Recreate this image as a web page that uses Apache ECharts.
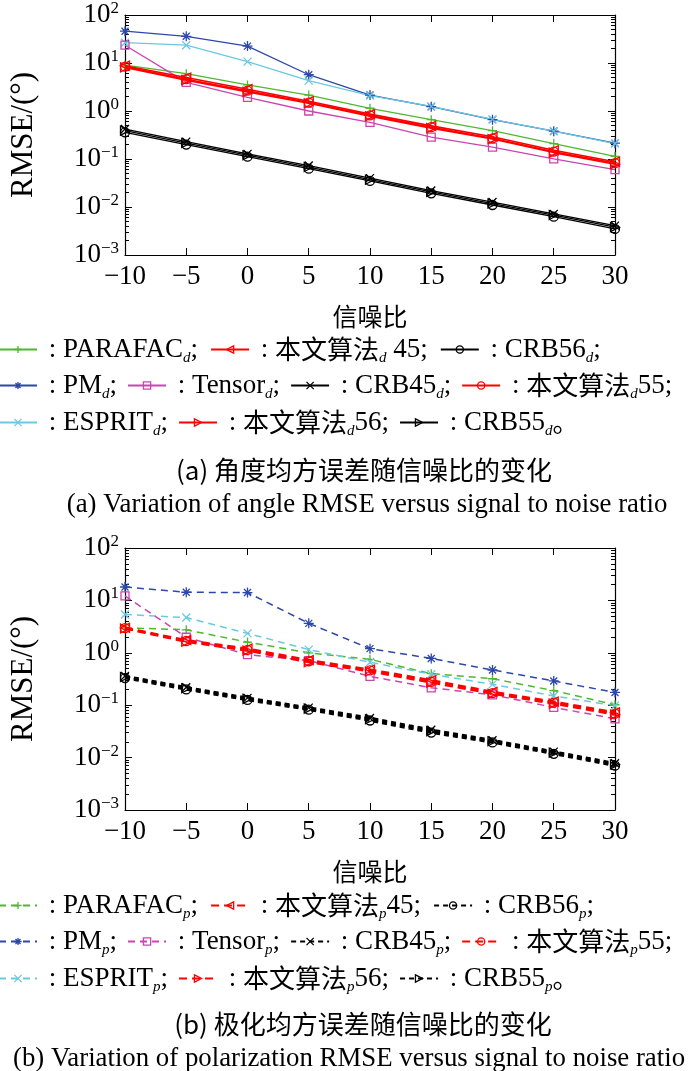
<!DOCTYPE html>
<html>
<head>
<meta charset="utf-8">
<script src="https://cdn.jsdelivr.net/npm/echarts@6/dist/echarts.min.js"></script>
<style>
    html, body { margin: 0; padding: 0; background: #fff; }
    #rmse { width: 700px; height: 1071px; }
</style>
</head>
<body>
<div id="rmse"></div>
<script>

// Chart data
// ------------------------------

var snr = [-10, -5, 0, 5, 10, 15, 20, 25, 30];

// (a) angle RMSE
var parafacD = [9.0, 6.0, 3.5, 2.15, 1.14, 0.66, 0.39, 0.21, 0.113];
var pmD      = [46, 36, 22.5, 5.7, 2.15, 1.23, 0.66, 0.38, 0.214];
var espritD  = [26.5, 23.5, 10.7, 4.3, 2.1, 1.25, 0.67, 0.38, 0.21];
var tensorD  = [23.5, 3.95, 1.92, 1.0, 0.58, 0.285, 0.177, 0.101, 0.06];
var alg45D   = [8.8, 5.0, 2.85, 1.6, 0.86, 0.49, 0.29, 0.152, 0.088];
var alg55D   = [8.4, 4.6, 2.65, 1.5, 0.81, 0.46, 0.27, 0.142, 0.082];
var alg56D   = [8.1, 4.4, 2.5, 1.45, 0.78, 0.44, 0.26, 0.136, 0.078];
var crb45D   = [0.42, 0.23, 0.128, 0.073, 0.04, 0.022, 0.0127, 0.0072, 0.0041];
var crb55D   = [0.39, 0.215, 0.12, 0.068, 0.037, 0.0206, 0.0118, 0.0068, 0.0038];
var crb56D   = [0.36, 0.2, 0.112, 0.063, 0.035, 0.0193, 0.011, 0.0063, 0.0035];

// (b) polarization RMSE
var parafacP = [3.0, 2.75, 1.6, 1.0, 0.75, 0.40, 0.32, 0.19, 0.102];
var pmP      = [18, 14.3, 14.1, 3.65, 1.2, 0.78, 0.47, 0.29, 0.175];
var espritP  = [5.4, 4.7, 2.35, 1.15, 0.66, 0.39, 0.25, 0.15, 0.098];
var tensorP  = [12.2, 1.98, 0.92, 0.71, 0.355, 0.215, 0.158, 0.091, 0.055];
var alg45P   = [3.0, 1.75, 1.2, 0.73, 0.48, 0.3, 0.18, 0.117, 0.073];
var alg55P   = [2.95, 1.68, 1.14, 0.69, 0.46, 0.28, 0.17, 0.112, 0.069];
var alg56P   = [2.9, 1.62, 1.1, 0.66, 0.44, 0.27, 0.165, 0.107, 0.066];
var crb45P   = [0.36, 0.22, 0.138, 0.09, 0.057, 0.034, 0.0215, 0.013, 0.0078];
var crb55P   = [0.345, 0.21, 0.132, 0.086, 0.054, 0.032, 0.0205, 0.0124, 0.0074];
var crb56P   = [0.33, 0.2, 0.126, 0.082, 0.051, 0.030, 0.0195, 0.0118, 0.007];

// Tick labels and texts
var xTicks = [-10, -5, 0, 5, 10, 15, 20, 25, 30];
var yDecades = [-3, -2, -1, 0, 1, 2];
var legendText = {
    'PARAFAC_d': '{t| : PARAFAC}{s|d}{t|;}',
    'ALG45_d':   '{t| : }{c|本文算法}{s|d}{t| 45;}',
    'CRB56_d':   '{t| : CRB56}{s|d}{t|;}',
    'PM_d':      '{t| : PM}{s|d}{t|;}',
    'Tensor_d':  '{t| : Tensor}{s|d}{t|;}',
    'CRB45_d':   '{t| : CRB45}{s|d}{t|;}',
    'ALG55_d':   '{t| : }{c|本文算法}{s|d}{t|55;}',
    'ESPRIT_d':  '{t| : ESPRIT}{s|d}{t|;}',
    'ALG56_d':   '{t| : }{c|本文算法}{s|d}{t|56;}',
    'CRB55_d':   '{t| : CRB55}{s|d}{c|。}',
    'PARAFAC_p': '{t| : PARAFAC}{s|p}{t|;}',
    'ALG45_p':   '{t| : }{c|本文算法}{s|p}{t|45;}',
    'CRB56_p':   '{t| : CRB56}{s|p}{t|;}',
    'PM_p':      '{t| : PM}{s|p}{t|;}',
    'Tensor_p':  '{t| : Tensor}{s|p}{t|;}',
    'CRB45_p':   '{t| : CRB45}{s|p}{t|;}',
    'ALG55_p':   '{t| : }{c|本文算法}{s|p}{t|55;}',
    'ESPRIT_p':  '{t| : ESPRIT}{s|p}{t|;}',
    'ALG56_p':   '{t| : }{c|本文算法}{s|p}{t|56;}',
    'CRB55_p':   '{t| : CRB55}{s|p}{c|。}'
};
var captions = [
    '(a) 角度均方误差随信噪比的变化',
    '(a) Variation of angle RMSE versus signal to noise ratio',
    '(b) 极化均方误差随信噪比的变化',
    '(b) Variation of polarization RMSE versus signal to noise ratio'
];


var RmseChart = function() {

    var SERIF = "'Liberation Serif', 'Noto Sans CJK SC', serif";
    var CJK = "'Noto Sans CJK SC', sans-serif";

    // Colors
    var GREEN = '#4fb82e', BLUE = '#2c48a8', CYAN = '#6cc8e0',
        MAGENTA = '#cc44b0', RED = '#ff0000', BLACK = '#000000';

    // Marker shapes
    var PLUS = 'path://M5,0L5,10M0,5L10,5';
    var CROSS = 'path://M0,0L10,10M10,0L0,10';
    var STAR = 'path://M5,0L5,10M0,5L10,5M1.5,1.5L8.5,8.5M8.5,1.5L1.5,8.5';

    // Grid boxes
    var grids = [
        {left: 113, right: 85, top: 14, height: 241},
        {left: 113, right: 85, top: 548, height: 262}
    ];

    // Minor ticks of the log axes (in decades)
    var minor = [];
    for (var d = -3; d < 2; d++) {
        for (var k = 2; k <= 9; k++) {
            minor.push(d + Math.log10(k));
        }
    }

    var minusSign = function(v) {
        return String(v).replace('-', '\u2212');
    };

    // Build axes for both grids
    var xAxes = [], yAxes = [];
    grids.forEach(function(g, i) {
        var base = {
            type: 'value', gridIndex: i, min: -10, max: 30, interval: 5,
            axisLine: {onZero: false, lineStyle: {color: BLACK, width: 1.2}},
            axisTick: {inside: true, length: 7, lineStyle: {color: BLACK}},
            splitLine: {show: false}
        };
        xAxes.push(Object.assign({}, base, {
            position: 'bottom',
            name: '信噪比', nameLocation: 'middle', nameGap: 49,
            nameTextStyle: {fontFamily: CJK, fontSize: 25, color: BLACK},
            axisLabel: {
                margin: 8, color: BLACK, fontFamily: SERIF, fontSize: 27,
                formatter: function(v) { return xTicks.indexOf(v) > -1 ? minusSign(v) : ''; }
            }
        }));
        xAxes.push(Object.assign({}, base, {position: 'top', axisLabel: {show: false}}));

        var logBase = {
            type: 'log', logBase: 10, gridIndex: i, min: 0.001, max: 100,
            axisLine: {onZero: false, lineStyle: {color: BLACK, width: 1.2}},
            axisTick: {inside: true, length: 7, lineStyle: {color: BLACK}},
            splitLine: {show: false}
        };
        yAxes.push(Object.assign({}, logBase, {
            position: 'left',
            name: 'RMSE/(°)', nameLocation: 'middle', nameGap: 86,
            nameTextStyle: {fontFamily: SERIF, fontSize: 31, color: BLACK},
            axisLabel: {
                margin: 6, color: BLACK,
                formatter: function(v) {
                    var e = Math.round(Math.log10(v));
                    if (yDecades.indexOf(e) < 0) return '';
                    return '{b|10}{e|' + minusSign(e) + '}';
                },
                rich: {
                    b: {fontFamily: SERIF, fontSize: 27, lineHeight: 30, color: BLACK},
                    e: {fontFamily: SERIF, fontSize: 17, lineHeight: 12, verticalAlign: 'top', color: BLACK}
                }
            }
        }));
        yAxes.push(Object.assign({}, logBase, {position: 'right', axisLabel: {show: false}}));

        ['left', 'right'].forEach(function(pos) {
            yAxes.push({
                type: 'value', gridIndex: i, min: -3, max: 2, position: pos,
                axisLine: {show: false, onZero: false},
                axisLabel: {show: false},
                splitLine: {show: false},
                axisTick: {show: true, inside: true, length: 4, customValues: minor,
                    lineStyle: {color: BLACK, width: 1}}
            });
        });
    });

    // Series builder
    var mk = function(name, values, color, symbol, gi, opt) {
        opt = opt || {};
        return {
            name: name,
            type: 'line',
            xAxisIndex: gi * 2,
            yAxisIndex: gi * 4,
            data: snr.map(function(x, j) { return [x, values[j]]; }),
            symbol: symbol,
            symbolSize: opt.size || 9,
            symbolRotate: opt.rotate || 0,
            showAllSymbol: true,
            silent: true,
            z: opt.z || 2,
            lineStyle: {color: color, width: opt.width || 1.3, type: opt.type || 'solid'},
            itemStyle: {color: 'none', borderColor: color, borderWidth: 1.3}
        };
    };

    var dash = [7, 5];
    var series = [
        mk('PARAFAC_d', parafacD, GREEN, PLUS, 0),
        mk('PM_d', pmD, BLUE, STAR, 0, {size: 10}),
        mk('ESPRIT_d', espritD, CYAN, CROSS, 0, {size: 8}),
        mk('Tensor_d', tensorD, MAGENTA, 'rect', 0, {size: 8}),
        mk('ALG45_d', alg45D, RED, 'triangle', 0, {rotate: 90, width: 1.6, z: 3}),
        mk('ALG55_d', alg55D, RED, 'circle', 0, {width: 1.6, z: 3}),
        mk('ALG56_d', alg56D, RED, 'triangle', 0, {rotate: -90, width: 1.6, z: 3}),
        mk('CRB45_d', crb45D, BLACK, CROSS, 0, {size: 8}),
        mk('CRB55_d', crb55D, BLACK, 'triangle', 0, {rotate: -90}),
        mk('CRB56_d', crb56D, BLACK, 'circle', 0),

        mk('PARAFAC_p', parafacP, GREEN, PLUS, 1, {type: dash, width: 1.5}),
        mk('PM_p', pmP, BLUE, STAR, 1, {size: 10, type: dash, width: 1.5}),
        mk('ESPRIT_p', espritP, CYAN, CROSS, 1, {size: 8, type: dash, width: 1.5}),
        mk('Tensor_p', tensorP, MAGENTA, 'rect', 1, {size: 8, type: dash, width: 1.5}),
        mk('ALG45_p', alg45P, RED, 'triangle', 1, {rotate: 90, type: [8, 5], width: 2.2, z: 3}),
        mk('ALG55_p', alg55P, RED, 'circle', 1, {type: [8, 5], width: 2.2, z: 3}),
        mk('ALG56_p', alg56P, RED, 'triangle', 1, {rotate: -90, type: [8, 5], width: 2.2, z: 3}),
        mk('CRB45_p', crb45P, BLACK, CROSS, 1, {size: 8, type: [5, 4], width: 2.6}),
        mk('CRB55_p', crb55P, BLACK, 'triangle', 1, {rotate: -90, type: [5, 4], width: 2.6}),
        mk('CRB56_p', crb56P, BLACK, 'circle', 1, {type: [5, 4], width: 2.6})
    ];

    // Legend rows
    var rich = {
        t: {fontFamily: SERIF, fontSize: 27, lineHeight: 32, color: BLACK},
        c: {fontFamily: CJK, fontSize: 26, lineHeight: 32, color: BLACK},
        s: {fontFamily: SERIF, fontStyle: 'italic', fontSize: 15, lineHeight: 8,
            verticalAlign: 'bottom', color: BLACK}
    };
    var rows = [
        {y: 352, gap: 12, data: ['PARAFAC_d', 'ALG45_d', 'CRB56_d']},
        {y: 388, gap: 10, data: ['PM_d', 'Tensor_d', 'CRB45_d', 'ALG55_d']},
        {y: 425, gap: 10, data: ['ESPRIT_d', 'ALG56_d', 'CRB55_d']},
        {y: 908, gap: 12, data: ['PARAFAC_p', 'ALG45_p', 'CRB56_p']},
        {y: 944, gap: 10, data: ['PM_p', 'Tensor_p', 'CRB45_p', 'ALG55_p']},
        {y: 981, gap: 10, data: ['ESPRIT_p', 'ALG56_p', 'CRB55_p']}
    ];
    var legends = rows.map(function(r) {
        return {
            orient: 'horizontal',
            left: -2,
            top: r.y - 16,
            padding: 0,
            itemWidth: 38,
            itemHeight: 9,
            itemGap: r.gap,
            selectedMode: false,
            data: r.data,
            itemStyle: {color: 'transparent', borderWidth: 1.3},
            formatter: function(n) { return legendText[n]; },
            textStyle: {color: BLACK, rich: rich}
        };
    });

    // Captions
    var capStyle = function(text, x, y, align, font, size) {
        return {
            type: 'text', x: x, y: y, silent: true,
            style: {text: text, fill: BLACK, fontFamily: font, fontSize: size,
                align: align, verticalAlign: 'middle'}
        };
    };
    var graphics = [
        capStyle(captions[0], 364, 470, 'center', CJK, 26),
        capStyle(captions[1], 367, 505, 'center', SERIF, 26.8),
        capStyle(captions[2], 363, 1024, 'center', CJK, 26),
        capStyle(captions[3], 13, 1059, 'left', SERIF, 26.8)
    ];

    var _init = function() {
        if (typeof echarts == 'undefined') {
            console.warn('Warning - echarts.min.js is not loaded.');
            return;
        }

        // Define element
        var el = document.getElementById('rmse');
        if (!el) return;

        // Initialize chart
        var chart = echarts.init(el, null, {renderer: 'canvas'});

        chart.setOption({
            animation: false,
            backgroundColor: '#fff',
            textStyle: {fontFamily: SERIF},
            grid: grids,
            xAxis: xAxes,
            yAxis: yAxes,
            legend: legends,
            graphic: graphics,
            series: series
        });
    };

    return {
        init: function() {
            _init();
        }
    };
}();


// Initialize module
// ------------------------------

document.addEventListener('DOMContentLoaded', function() {
    RmseChart.init();
});

</script>
</body>
</html>
